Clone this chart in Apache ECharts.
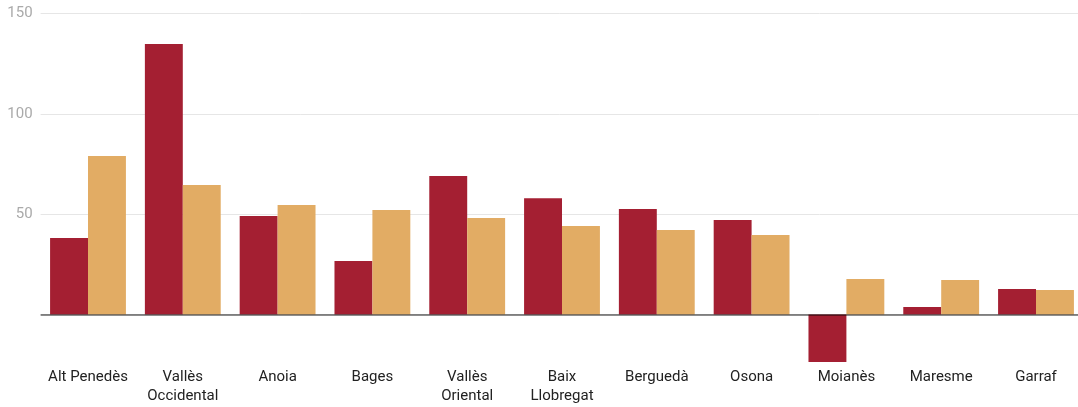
<!DOCTYPE html>
<html>
<head>
<meta charset="utf-8">
<script src="https://cdn.jsdelivr.net/npm/echarts@6/dist/echarts.min.js"></script>
<style>
html,body{margin:0;padding:0;background:#fff;}
#chart{width:1078px;height:407px;}
</style>
</head>
<body>
<div id="chart"></div>
<script>
const categories = ['Alt Penedès', 'Vallès\nOccidental', 'Anoia', 'Bages', 'Vallès\nOriental', 'Baix\nLlobregat', 'Berguedà', 'Osona', 'Moianès', 'Maresme', 'Garraf'];
const seriesA = [38.1, 134.8, 49.1, 26.7, 69.0, 58.0, 52.6, 47.1, -23.7, 3.7, 12.7];
const seriesB = [79.0, 64.5, 54.6, 52.1, 48.1, 44.1, 42.1, 39.6, 17.7, 17.2, 12.2];
const yTickLabels = [50, 100, 150];
const yGridValues = [0, 50, 100, 150];

const chart = echarts.init(document.getElementById('chart'), null, {renderer: 'canvas'});
chart.setOption({
  animation: false,
  textStyle: {fontFamily: 'Roboto'},
  grid: {left: 40.6, top: 13.5, right: -5.4, bottom: 42.3, containLabel: false, outerBoundsMode: 'none'},
  xAxis: {
    type: 'category',
    data: categories,
    axisLine: {show: false},
    axisTick: {show: false},
    axisLabel: {color: '#222', fontSize: 15, fontFamily: 'Roboto', lineHeight: 19, margin: 3, interval: 0}
  },
  yAxis: {
    type: 'value',
    min: -25,
    max: 150,
    axisLine: {show: false},
    axisTick: {show: false, customValues: yGridValues},
    axisLabel: {customValues: yTickLabels, color: '#aaa', fontSize: 15, fontFamily: 'Roboto', margin: 8},
    splitLine: {show: true, lineStyle: {color: '#e6e6e6', width: 1}}
  },
  series: [
    {
      type: 'bar',
      data: seriesA,
      itemStyle: {color: '#a41f32'},
      barGap: '0%',
      barCategoryGap: '20%',
      markLine: {
        silent: true,
        symbol: 'none',
        label: {show: false},
        lineStyle: {color: 'rgba(0,0,0,0.45)', width: 2, type: 'solid'},
        data: [{yAxis: 0}],
        z: 10
      }
    },
    {
      type: 'bar',
      data: seriesB,
      itemStyle: {color: '#e2ac64'},
      barGap: '0%',
      barCategoryGap: '20%'
    }
  ]
});
</script>
</body>
</html>
